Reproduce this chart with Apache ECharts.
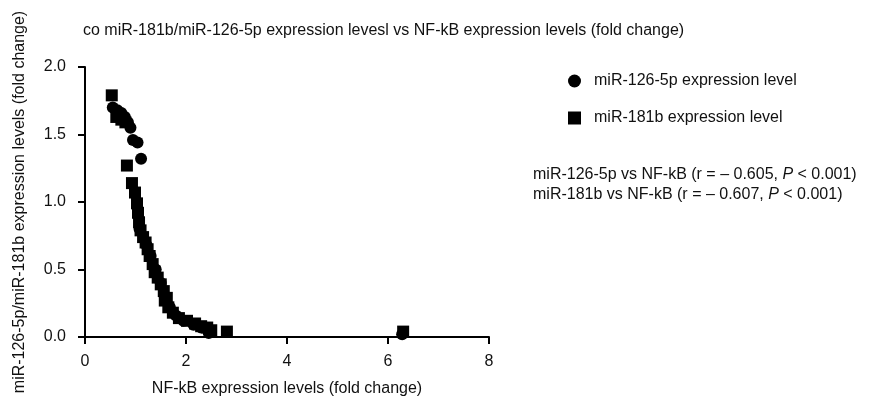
<!DOCTYPE html>
<html>
<head>
<meta charset="utf-8">
<script src="https://cdn.jsdelivr.net/npm/echarts@6/dist/echarts.min.js"></script>
<style>html,body{margin:0;padding:0;background:#fff}#c{width:869px;height:397px}</style>
</head>
<body>
<div id="c"></div>
<script>
const titleText = 'co miR-181b/miR-126-5p expression levesl vs NF-kB expression levels (fold change)';
const xName = 'NF-kB expression levels (fold change)';
const yName = 'miR-126-5p/miR-181b expression levels (fold change)';
const seriesNames = ['miR-126-5p expression level', 'miR-181b expression level'];
const xTicks = [0, 2, 4, 6, 8];
const yTicks = [0, 0.5, 1.0, 1.5, 2.0];
const mir126 = [[0.55,1.70],[0.64,1.68],[0.72,1.66],[0.79,1.63],[0.85,1.59],[0.90,1.55],[0.95,1.46],[1.04,1.44],[1.11,1.32],[1.08,0.80],[1.22,0.68],[1.30,0.60],[1.40,0.50],[1.50,0.40],[1.60,0.30],[1.68,0.22],[1.80,0.16],[1.95,0.12],[2.15,0.09],[2.30,0.07],[2.45,0.03],[6.28,0.02]];
const mir181 = [[0.53,1.79],[0.62,1.63],[0.72,1.61],[0.80,1.59],[0.83,1.27],[0.93,1.14],[0.99,1.07],[1.03,0.99],[1.05,0.92],[1.07,0.85],[1.10,0.79],[1.15,0.74],[1.20,0.70],[1.24,0.65],[1.28,0.60],[1.34,0.54],[1.38,0.48],[1.44,0.44],[1.50,0.39],[1.56,0.34],[1.62,0.29],[1.58,0.27],[1.65,0.22],[1.74,0.18],[1.86,0.14],[2.02,0.12],[2.18,0.10],[2.30,0.08],[2.42,0.07],[2.50,0.05],[2.81,0.04],[6.30,0.04]];
const statLines = [
  ['miR-126-5p vs NF-kB (r = \u2013 0.605, ', 'P', ' < 0.001)'],
  ['miR-181b vs NF-kB (r = \u2013 0.607, ', 'P', ' < 0.001)']
];

const FONT = 'Liberation Sans, Arial, sans-serif';
const chart = echarts.init(document.getElementById('c'));
const axisCommon = {
  axisLine: {show: true, lineStyle: {color: '#000', width: 2}},
  axisTick: {show: true, length: 7, lineStyle: {color: '#000', width: 2}},
  splitLine: {show: false},
  nameTextStyle: {color: '#111', fontSize: 16, fontFamily: FONT}
};
chart.setOption({
  animation: false,
  backgroundColor: '#fff',
  title: {
    text: titleText, left: 78, top: 18,
    textStyle: {fontSize: 16, fontWeight: 'normal', color: '#111', fontFamily: FONT}
  },
  legend: {
    orient: 'vertical', left: 563, top: 68, itemGap: 21,
    itemWidth: 13, itemHeight: 13,
    data: [{name: seriesNames[0], icon: 'circle'}, {name: seriesNames[1], icon: 'rect'}],
    textStyle: {fontSize: 16, color: '#111', fontFamily: FONT, padding: [0, 0, 0, 8]}
  },
  grid: {left: 85, right: 380, top: 67, bottom: 60, containLabel: false, outerBoundsMode: 'none'},
  xAxis: Object.assign({}, axisCommon, {
    type: 'value', min: xTicks[0], max: xTicks[xTicks.length - 1], interval: 2,
    name: xName, nameLocation: 'middle', nameGap: 44,
    axisLabel: {color: '#111', fontSize: 16, fontFamily: FONT, margin: 17,
      formatter: v => xTicks.includes(v) ? String(v) : ''}
  }),
  yAxis: Object.assign({}, axisCommon, {
    type: 'value', min: yTicks[0], max: yTicks[yTicks.length - 1], interval: 0.5,
    name: yName, nameLocation: 'middle', nameGap: 57,
    axisLabel: {color: '#111', fontSize: 16, fontFamily: FONT, margin: 19,
      formatter: v => v.toFixed(1)}
  }),
  series: [
    {name: seriesNames[0], type: 'scatter', symbol: 'circle', symbolSize: 12,
     itemStyle: {color: '#000', opacity: 1}, data: mir126},
    {name: seriesNames[1], type: 'scatter', symbol: 'rect', symbolSize: 12,
     itemStyle: {color: '#000', opacity: 1}, data: mir181}
  ],
  graphic: statLines.map((l, i) => ({
    type: 'text', left: 533, top: 167 + i * 20,
    style: {
      text: '{a|' + l[0] + '}{i|' + l[1] + '}{a|' + l[2] + '}',
      rich: {
        a: {fontSize: 16, fontFamily: FONT, fill: '#111', color: '#111'},
        i: {fontSize: 16, fontFamily: FONT, fontStyle: 'italic', fill: '#111', color: '#111'}
      }
    }
  }))
});
</script>
</body>
</html>
